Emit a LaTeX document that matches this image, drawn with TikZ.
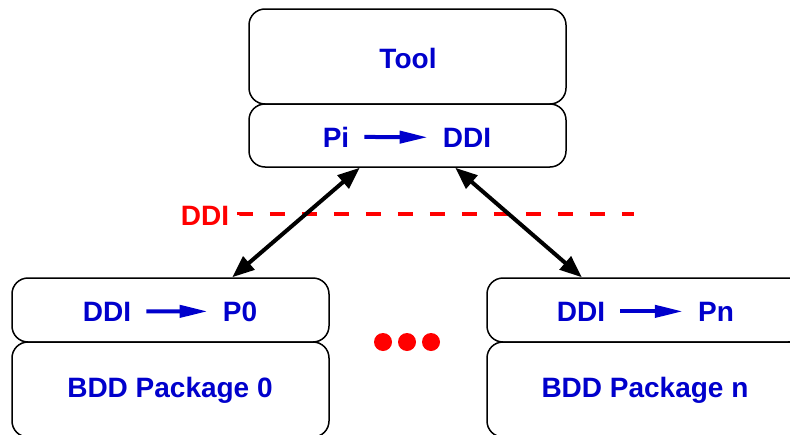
\documentclass[tikz,border=0pt]{standalone}
\usepackage{fontspec}
\setmainfont{Liberation Sans}
\usetikzlibrary{arrows.meta,calc}
\definecolor{lblue}{RGB}{0,0,204}
\definecolor{lred}{RGB}{255,0,0}
\tikzset{
  layer/.style={draw=black, line width=1.5pt, rounded corners=16pt,
    minimum width=317pt, inner sep=0pt},
  lbl/.style={text=lblue, font=\fontsize{28}{30}\selectfont\bfseries,
    anchor=base, inner sep=0pt},
  maparrow/.style={draw=lblue, line width=4pt,
    -{Triangle[length=28pt,width=12pt]}, shorten <=15pt, shorten >=15pt},
  link/.style={draw=black, line width=4pt,
    {Triangle[length=22pt,width=17pt]}-{Triangle[length=22pt,width=17pt]}},
  dot/.style={circle, fill=lred, minimum size=18pt, inner sep=0pt}
}
\begin{document}
\begin{tikzpicture}[x=1pt,y=-1pt]
\useasboundingbox (0,0) rectangle (790,434);

% upper stack: tool and its DDI mapping layer
\node[layer, minimum height=95pt] (tool) at (407.5,56.5) {};
\node[layer, minimum height=63pt] (tmap) at (407.5,135.5) {};
\node[lbl] (tooltxt) at (408,68) {Tool};
\node[lbl] (pi) at (336,147) {Pi};
\node[lbl] (tddi) at (467,147) {DDI};
\draw[maparrow] (pi.east) -- (tddi.west);

% left stack: package 0
\node[layer, minimum height=64pt] (lmap) at (170.5,310) {};
\node[layer, minimum height=95pt] (lpkg) at (170.5,389.5) {};
\node[lbl] (lddi) at (107,321) {DDI};
\node[lbl] (p0) at (240,321) {P0};
\draw[maparrow] (lddi.east) -- (p0.west);
\node[lbl] (lpkgtxt) at (170,397) {BDD Package 0};

% right stack: package n
\node[layer, minimum height=64pt] (rmap) at (645.5,310) {};
\node[layer, minimum height=95pt] (rpkg) at (645.5,389.5) {};
\node[lbl] (rddi) at (581,321) {DDI};
\node[lbl] (pn) at (716,321) {Pn};
\draw[maparrow] (rddi.east) -- (pn.west);
\node[lbl] (rpkgtxt) at (645,397) {BDD Package n};

% interface boundary
\node[lbl, text=lred] (ddiline) at (205,225) {DDI};
\coordinate (dashend) at (634,214);
\draw[draw=lred, line width=4.5pt, dash pattern=on 15pt off 17pt]
  ($(ddiline.east)+(10,0)$) |- (dashend);

% links between the tool and the packages
\coordinate (ta) at ($(tmap.south west)!0.35!(tmap.south east)$);
\coordinate (tb) at ($(tmap.south west)!0.65!(tmap.south east)$);
\coordinate (la) at ($(lmap.north west)!0.694!(lmap.north east)$);
\coordinate (rb) at ($(rmap.north west)!0.30!(rmap.north east)$);
\draw[link] (ta) -- (la);
\draw[link] (tb) -- (rb);

% ellipsis between the packages
\node[dot] (d1) at (383,342) {};
\node[dot] (d2) at (407,342) {};
\node[dot] (d3) at (431,342) {};
\end{tikzpicture}
\end{document}
